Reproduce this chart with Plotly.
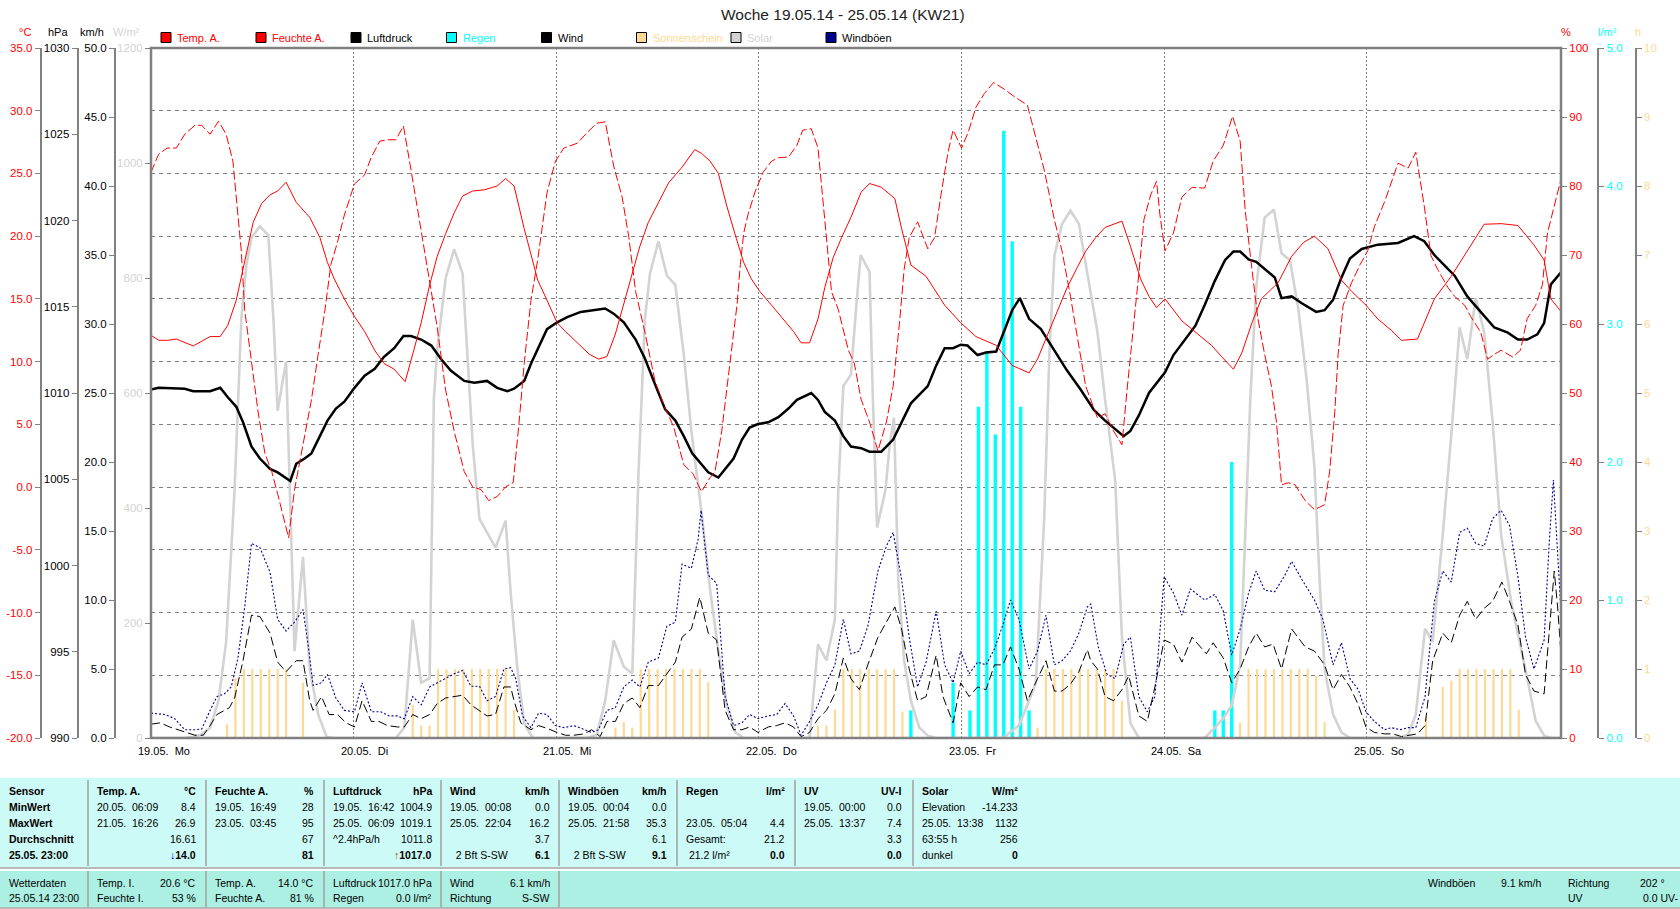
import plotly.graph_objects as go

# ---------------- data (hours since 19.05.14 00:00) ----------------
temp_h = [0, 0.9, 2.0, 3.0, 5.0, 7.0, 8.2, 9.1, 10.1, 11.1, 12.1, 13.1, 14.1, 15.0, 16.0, 17.2, 18.8, 20.0, 20.9, 21.7,
          22.9, 24.1, 25.3, 26.5, 27.6, 28.8, 30.1, 31.0, 32.0, 33.0, 33.9, 34.9, 35.9, 36.9, 38.1, 39.5, 41.0, 42.0,
          43.0, 44.2, 45.8, 46.9, 48.1, 49.1, 50.5, 51.9, 53.0, 54.0, 55.0, 56.0, 57.0, 57.9, 58.9, 60.1, 61.3, 62.9,
          64.4, 65.2, 66.2, 67.2, 68.2, 69.2, 70.2, 71.1, 72.1, 73.5, 74.9, 76.1, 77.0, 78.0, 79.0, 79.8, 80.8, 81.8,
          82.9, 84.1, 85.1, 86.5, 88.1, 88.9, 90.0, 91.8, 94.0, 95.9, 97.7, 100.1, 102.0, 104.0, 105.0, 106.2, 107.4,
          108.5, 109.7, 110.7, 111.9, 113.0, 115.0, 116.0, 117.2, 118.2, 119.1, 120.1, 122.1, 124.3, 125.6, 126.8,
          128.2, 129.2, 130.4, 131.5, 133.5, 135.1, 136.5, 137.8, 139.4, 141.0, 142.2, 143.9, 145.3, 146.9, 148.1,
          150.0, 152.0, 154.0, 155.9, 157.9, 159.9, 161.9, 163.8, 165.0, 165.8, 167.0]
temp_v = [12.1, 11.7, 11.7, 11.8, 11.25, 12.0, 12.0, 12.9, 14.9, 18.1, 21.1, 22.6, 23.3, 23.6, 24.3, 22.7, 21.5, 19.9,
          17.9, 16.6, 15.0, 13.6, 12.4, 10.9, 9.85, 9.4, 8.4, 10.6, 13.1, 16.1, 18.4, 20.2, 21.85, 23.2, 23.6, 23.7,
          24.0, 24.6, 24.0, 20.6, 16.5, 14.9, 13.1, 12.4, 11.5, 10.6, 10.2, 10.4, 12.2, 14.6, 17.0, 19.2, 21.1, 22.7,
          24.25, 25.5, 26.9, 26.6, 26.0, 25.0, 22.4, 20.1, 17.9, 16.6, 15.6, 14.5, 13.4, 12.4, 11.5, 11.5, 13.4, 15.9,
          18.3, 19.9, 21.5, 23.5, 24.2, 23.9, 23.0, 20.6, 17.7, 16.8, 14.5, 13.1, 12.0, 11.3, 9.7, 9.1, 10.2, 12.2,
          14.1, 15.9, 17.5, 18.8, 19.9, 20.7, 21.2, 19.2, 16.6, 15.2, 14.3, 15.0, 13.25, 12.0, 11.3, 10.4, 9.4, 10.7,
          13.1, 15.0, 16.3, 18.4, 19.5, 20.0, 19.0, 16.5, 15.6, 14.5, 13.4, 12.5, 11.7, 11.8, 15.0, 16.8, 18.8, 20.95,
          21.0, 20.85, 19.3, 18.1, 15.0, 14.0]

hum_h = [0, 0.9, 1.9, 3.0, 4.0, 5.2, 6.0, 7.0, 8.0, 8.9, 9.7, 10.3, 10.7, 11.1, 11.9, 12.7, 13.5, 14.3, 15.0, 16.3,
         17.0, 18.0, 19.0, 19.8, 20.6, 21.3, 22.1, 22.9, 24.1, 25.3, 26.1, 27.1, 28.0, 29.0, 29.9, 30.8, 32.0, 33.2,
         33.9, 34.9, 35.9, 37.1, 38.1, 39.1, 40.0, 41.0, 42.0, 42.9, 43.6, 44.2, 45.0, 45.8, 46.9, 47.9, 48.9, 50.5,
         51.7, 52.8, 53.8, 54.8, 55.8, 56.6, 57.4, 58.5, 59.7, 60.9, 61.9, 63.1, 64.2, 65.2, 66.2, 66.8, 67.6, 68.6,
         69.4, 69.8, 70.2, 70.7, 71.5, 72.5, 73.5, 74.3, 75.5, 76.5, 77.2, 78.2, 79.0, 79.8, 80.6, 81.4, 82.6, 83.3,
         84.1, 85.1, 86.1, 87.1, 87.9, 88.7, 89.2, 89.8, 90.8, 92.0, 92.8, 93.6, 94.4, 95.0, 96.0, 96.8, 97.7, 98.7,
         99.8, 101.1, 102.2, 103.8, 104.6, 105.8, 107.0, 107.9, 108.9, 109.7, 110.7, 112.1, 113.0, 114.0, 115.0,
         115.6, 116.4, 117.0, 117.6, 118.4, 119.1, 119.5, 120.1, 121.1, 122.1, 123.3, 124.8, 125.8, 127.0, 128.1,
         129.0, 129.6, 130.4, 131.1, 131.9, 132.7, 133.3, 133.9, 134.7, 135.5, 136.7, 137.8, 139.0, 139.6, 140.2,
         140.6, 141.2, 142.2, 143.2, 144.1, 144.9, 146.1, 147.7, 148.9, 149.8, 150.8, 151.6, 152.4, 153.6, 154.4,
         155.6, 156.3, 157.5, 158.3, 159.1, 159.9, 161.3, 162.2, 163.0, 164.0, 164.8, 165.4, 166.2, 167.0]
hum_v = [82, 84.6, 85.5, 85.5, 87.5, 88.8, 88.8, 87.5, 89.4, 87.5, 83.6, 75.1, 70.5, 62, 54.3, 47.1, 41.2, 38.6, 35.4,
         29, 36, 42.5, 49, 55.6, 62, 68.6, 71.9, 75.8, 80.3, 81.6, 84.2, 86.5, 86.7, 86.7, 88.7, 82.3, 73.2, 64.7, 59.5,
         50.4, 44.5, 38.6, 36.4, 36, 34.4, 35, 36.4, 37, 45.8, 54.3, 63.4, 69.3, 79, 83.6, 85.5, 86.2, 87.8, 89.1, 89.3,
         82.9, 78.4, 72.5, 64.7, 58.8, 51.7, 47.8, 45.1, 39.6, 38.3, 35.7, 37.7, 38.6, 44.5, 54.3, 62.7, 68.6, 73.2,
         75.8, 79, 82, 83.6, 84.1, 84.2, 85.9, 88.1, 88.3, 85.5, 75.1, 64.7, 62.1, 56.2, 54.3, 49.1, 45.8, 41.6, 45.8,
         51, 60.8, 67.9, 72.5, 74.8, 70.9, 72.5, 79, 84.9, 88.1, 85.5, 87.8, 91.4, 93.4, 95, 94, 93, 91.7, 88.1, 82.3,
         75.1, 70.6, 64.0, 58.2, 51, 46.4, 47, 44.5, 42.5, 50.4, 59.5, 67.3, 75.1, 78.7, 80.7, 75.8, 70.6, 73.2, 78.4,
         79.8, 79.7, 83.6, 85.9, 90.1, 86.5, 76.4, 67.9, 60.8, 55.6, 51, 45.8, 36.7, 37, 36.7, 34.4, 33.1, 33.8, 38.6,
         47.1, 55.6, 62.7, 66, 68.6, 70.6, 74.1, 77.7, 83.3, 82.6, 84.9, 77.1, 69.9, 67.9, 65.3, 64, 62.7, 61.1, 58.8,
         54.9, 55.6, 56.2, 55.2, 56.2, 60.8, 62.7, 65.7, 73.2, 77.1, 81]

pres_h = [0, 0.9, 4.0, 5.0, 7.0, 8.2, 9.1, 10.1, 10.9, 11.9, 12.9, 14.1, 15.0, 16.5, 17.2, 18.2, 19.0, 20.0, 20.9,
          21.9, 22.9, 24.1, 25.3, 26.5, 27.6, 28.8, 29.9, 30.8, 32.0, 33.2, 34.3, 35.5, 37.1, 38.3, 39.8, 41.0, 42.2,
          43.0, 44.2, 45.0, 46.1, 46.9, 48.1, 49.3, 50.9, 52.4, 53.8, 54.8, 56.0, 57.4, 58.5, 59.7, 60.9, 62.1, 63.1,
          64.1, 65.2, 66.0, 67.2, 68.0, 69.0, 70.0, 70.9, 71.9, 73.1, 74.3, 75.5, 76.5, 77.2, 78.2, 79.0, 79.8, 81.0,
          82.0, 82.9, 84.1, 85.1, 86.5, 87.9, 88.9, 90.0, 92.0, 93.0, 94.0, 95.0, 95.9, 96.7, 97.9, 98.9, 100.1, 101.1,
          102.0, 102.9, 104.0, 105.4, 107.0, 108.5, 110.1, 111.7, 113.0, 114.0, 115.2, 116.0, 117.0, 118.2, 120.1,
          121.1, 122.5, 123.7, 124.8, 126.0, 127.2, 128.2, 129.0, 130.0, 130.9, 131.9, 133.1, 133.9, 135.1, 136.3,
          138.0, 139.0, 140.0, 141.0, 142.0, 143.4, 145.3, 147.7, 149.6, 150.8, 152.0, 153.2, 154.4, 155.9, 157.5,
          159.1, 160.7, 161.9, 163.0, 164.2, 165.0, 165.8, 167.0]
pres_v = [1010.2, 1010.3, 1010.25, 1010.1, 1010.1, 1010.3, 1009.75, 1009.2, 1008.3, 1006.9, 1006.2, 1005.6, 1005.4,
          1004.9, 1005.9, 1006.2, 1006.5, 1007.5, 1008.4, 1009.1, 1009.5, 1010.3, 1011.0, 1011.4, 1012.1, 1012.6,
          1013.3, 1013.3, 1013.1, 1012.75, 1012.0, 1011.3, 1010.7, 1010.6, 1010.7, 1010.3, 1010.1, 1010.25, 1010.7,
          1011.7, 1012.9, 1013.7, 1014.1, 1014.4, 1014.7, 1014.8, 1014.9, 1014.6, 1014.1, 1013.1, 1012.0, 1010.5,
          1009.05, 1008.4, 1007.5, 1006.5, 1005.9, 1005.4, 1005.1, 1005.6, 1006.2, 1007.3, 1008.0, 1008.2, 1008.3,
          1008.6, 1009.1, 1009.6, 1009.75, 1010.0, 1009.6, 1008.9, 1008.4, 1007.5, 1006.9, 1006.8, 1006.6, 1006.6,
          1007.3, 1008.3, 1009.4, 1010.4, 1011.6, 1012.6, 1012.6, 1012.8, 1012.75, 1012.2, 1012.35, 1012.4, 1013.7,
          1014.8, 1015.5, 1014.3, 1013.7, 1012.5, 1011.3, 1010.2, 1009.0, 1008.4, 1008.0, 1007.5, 1007.8, 1008.7,
          1010.0, 1011.2, 1012.2, 1013.1, 1013.9, 1015.1, 1016.5, 1017.7, 1018.2, 1018.2, 1017.75, 1017.6, 1017.2,
          1016.7, 1015.5, 1015.6, 1015.2, 1014.7, 1014.8, 1015.4, 1016.7, 1017.8, 1018.35, 1018.6, 1018.7, 1019.1,
          1018.8, 1018.0, 1017.4, 1016.8, 1015.6, 1014.7, 1013.8, 1013.5, 1013.1, 1013.1, 1013.4, 1014.05, 1016.3,
          1017.0]

wind_h = [0.0, 1.1, 2.2, 3.2, 4.2, 5.2, 6.2, 7.0, 7.8, 8.7, 9.3, 9.9, 10.9, 11.9, 12.9, 14.1, 15.0, 16.0, 17.2, 18.0,
          18.8, 19.2, 20.2, 21.1, 22.1, 23.1, 24.1, 25.0, 26.1, 27.0, 28.0, 29.2, 30.0, 31.0, 32.0, 33.0, 33.9, 34.9,
          35.9, 36.9, 37.9, 38.9, 39.8, 40.8, 41.8, 42.6, 43.0, 43.8, 45.0, 45.9, 46.9, 48.1, 49.1, 50.1, 51.3, 52.2,
          53.2, 54.0, 55.0, 56.0, 57.0, 57.9, 58.9, 60.1, 60.9, 62.1, 62.9, 64.0, 65.0, 66.0, 67.0, 68.0, 69.0, 70.0,
          70.9, 71.9, 73.1, 74.1, 75.1, 76.1, 77.0, 78.0, 79.0, 80.0, 81.0, 82.0, 82.9, 83.9, 84.9, 86.1, 87.1, 88.1,
          88.9, 89.8, 90.8, 91.8, 93.0, 93.8, 95.0, 95.9, 96.9, 97.9, 98.9, 99.9, 100.9, 101.8, 102.8, 103.8, 105.0,
          106.0, 107.0, 107.9, 108.9, 109.9, 110.9, 111.3, 112.1, 113.0, 114.0, 115.0, 115.8, 117.0, 118.0, 118.9,
          120.0, 121.1, 122.1, 123.3, 125.0, 125.8, 127.0, 128.0, 129.0, 130.0, 130.9, 131.9, 132.9, 133.9, 135.1,
          136.7, 137.8, 139.0, 140.0, 141.0, 142.0, 143.0, 143.9, 144.9, 146.1, 147.1, 148.1, 149.1, 150.0, 150.9,
          151.8, 153.0, 154.0, 155.0, 155.9, 156.9, 157.9, 158.9, 160.0, 160.9, 161.9, 162.8, 163.8, 165.0, 165.6,
          166.2, 166.6, 167.0]
wind_v = [1.0, 1.1, 0.8, 0.6, 0.4, 0.2, 0.2, 0.9, 1.7, 2.0, 2.2, 2.9, 5.6, 8.9, 8.8, 7.6, 5.5, 4.8, 5.6, 5.6, 2.7, 2.0,
          3.0, 1.7, 1.7, 1.1, 0.8, 2.7, 1.2, 1.2, 0.9, 0.8, 0.8, 1.7, 1.4, 1.7, 2.5, 2.9, 3.0, 3.1, 2.4, 2.0, 1.6, 1.7,
          3.7, 3.7, 2.7, 1.1, 0.6, 0.9, 0.7, 0.4, 0.2, 0.2, 0.3, 0.6, 0.1, 1.2, 1.2, 2.5, 2.9, 2.2, 3.8, 3.8, 4.5, 5.5,
          7.3, 7.9, 10.2, 7.6, 7.1, 2.0, 0.6, 0.6, 0.8, 0.4, 0.8, 0.9, 1.1, 0.8, 0.1, 0.4, 1.4, 2.0, 3.2, 5.8, 4.3,
          3.5, 5.3, 7.3, 8.4, 9.5, 7.9, 5.0, 2.7, 3.0, 6.0, 3.0, 1.1, 4.0, 3.0, 3.7, 3.5, 5.3, 5.3, 6.6, 5.0, 2.7, 4.3,
          5.6, 3.4, 3.4, 3.9, 4.8, 6.4, 5.6, 5.0, 3.0, 2.7, 3.5, 4.5, 1.6, 1.2, 3.7, 7.1, 6.8, 5.5, 7.3, 6.1, 6.9, 5.8,
          4.0, 5.0, 6.6, 7.6, 6.6, 6.8, 5.0, 7.9, 6.6, 6.3, 5.3, 3.5, 4.6, 3.7, 2.4, 0.8, 0.4, 0.3, 0.3, 0.1, 0.2, 0.3,
          0.9, 5.6, 7.6, 6.9, 8.9, 9.9, 8.6, 9.4, 9.9, 11.3, 9.9, 8.2, 4.6, 3.4, 3.2, 7.4, 12.1, 9.5, 6.1]

gust_h = [0.0, 1.7, 2.8, 4.0, 5.2, 6.0, 7.0, 7.8, 8.7, 9.5, 10.3, 11.1, 11.9, 12.9, 14.1, 15.0, 16.0, 17.0, 18.0, 18.6,
          19.2, 20.2, 20.9, 21.9, 22.9, 24.1, 25.0, 26.1, 27.2, 28.2, 29.2, 30.0, 31.0, 32.0, 33.0, 33.9, 34.9, 35.9,
          36.9, 37.9, 38.9, 39.8, 40.8, 41.8, 42.6, 43.2, 44.0, 45.0, 45.9, 46.9, 47.9, 48.9, 50.1, 51.3, 52.2, 53.0,
          54.0, 55.0, 56.0, 57.0, 57.9, 58.9, 60.1, 61.1, 62.1, 62.9, 64.0, 64.8, 65.15, 66.0, 67.0, 68.0, 69.0, 70.0,
          70.9, 71.9, 73.1, 74.1, 75.1, 76.1, 77.0, 78.0, 79.0, 80.0, 81.0, 82.0, 82.9, 83.9, 84.9, 86.1, 87.1, 87.9,
          88.9, 89.8, 90.8, 91.8, 93.0, 94.0, 95.0, 95.9, 96.9, 97.9, 98.9, 99.9, 100.9, 101.8, 102.8, 104.0, 105.0,
          106.0, 107.0, 107.9, 108.9, 109.9, 110.9, 111.3, 112.2, 113.2, 114.2, 115.2, 116.0, 117.0, 118.0, 118.9,
          120.0, 121.1, 122.1, 123.1, 124.8, 126.0, 127.0, 128.0, 129.0, 130.0, 130.9, 131.9, 133.1, 134.3, 135.1,
          136.3, 137.8, 138.8, 140.0, 141.0, 142.0, 143.0, 143.9, 144.9, 146.1, 146.9, 147.9, 148.9, 149.8, 150.9,
          152.0, 153.0, 154.0, 155.0, 155.9, 156.9, 157.9, 158.9, 159.9, 160.9, 161.9, 162.8, 163.8, 165.0, 165.6,
          166.1, 166.6, 167.0]
gust_v = [1.8, 1.7, 1.4, 0.6, 0.6, 0.65, 2.0, 3.0, 3.2, 3.7, 5.8, 9.5, 14.1, 13.8, 12.0, 8.6, 7.75, 8.4, 9.3, 6.8, 3.8,
          4.0, 4.6, 2.9, 2.0, 1.9, 4.0, 1.9, 1.9, 1.6, 1.6, 1.4, 3.0, 2.4, 3.7, 4.0, 4.3, 4.65, 4.9, 3.75, 3.75, 2.7,
          3.0, 5.0, 5.1, 4.3, 1.6, 0.75, 1.8, 1.7, 0.9, 0.75, 0.9, 0.6, 0.4, 0.6, 2.0, 2.2, 3.7, 4.2, 3.7, 5.5, 5.8,
          8.1, 8.4, 12.6, 12.3, 14.4, 16.5, 11.8, 11.2, 3.0, 0.9, 1.1, 1.7, 1.4, 1.6, 1.7, 2.5, 1.6, 0.2, 1.2, 2.4, 4.0,
          5.3, 8.6, 6.1, 6.3, 8.1, 12.1, 13.9, 14.9, 11.5, 7.3, 3.7, 5.5, 9.2, 5.3, 4.0, 6.3, 4.65, 5.5, 5.3, 6.45, 8.2,
          10.0, 8.6, 5.0, 6.3, 8.9, 5.3, 5.6, 6.3, 7.6, 9.5, 9.7, 6.6, 4.65, 4.3, 6.8, 7.3, 3.0, 1.9, 3.0, 11.7, 10.5,
          8.9, 10.8, 10.0, 10.4, 9.2, 6.0, 7.9, 10.5, 12.1, 10.7, 10.6, 11.8, 12.8, 11.5, 10.0, 8.6, 5.3, 6.9, 4.3, 3.5,
          1.9, 1.2, 0.6, 0.75, 0.6, 0.75, 0.75, 3.0, 9.9, 12.1, 11.3, 14.9, 15.2, 14.1, 13.9, 15.9, 16.5, 15.4, 11.7,
          7.3, 5.0, 7.1, 14.1, 18.7, 13.5, 9.1]

solar_h = [0, 4.0, 5.0, 6.0, 7.0, 8.0, 8.9, 9.9, 10.7, 11.3, 11.9, 12.9, 13.9, 14.5, 15.0, 16.0, 16.6, 17.0, 18.0,
           18.8, 19.8, 20.8, 21.7, 29.0, 30.0, 31.0, 32.0, 33.0, 33.5, 33.9, 34.9, 35.9, 36.9, 37.5, 38.1, 38.9, 40.8,
           42.0, 42.6, 43.4, 44.2, 45.2, 51.7, 52.8, 53.8, 54.8, 56.0, 57.0, 57.75, 58.5, 59.1, 60.1, 61.1, 62.1, 63.1,
           64.0, 65.2, 66.2, 67.2, 68.2, 69.2, 70.2, 78.0, 79.0, 80.0, 81.0, 81.4, 82.0, 82.9, 83.5, 84.05, 85.1, 85.5,
           86.0, 87.0, 87.5, 88.0, 88.5, 89.2, 90.0, 91.0, 92.0, 93.0, 100.9, 101.8, 102.8, 103.8, 104.8, 105.8, 106.4,
           107.0, 107.9, 108.9, 109.9, 110.9, 112.1, 113.0, 114.2, 115.0, 116.0, 117.0, 124.8, 126.0, 127.0, 128.0,
           129.0, 129.6, 130.2, 130.9, 131.9, 133.0, 133.9, 134.9, 135.9, 136.9, 137.8, 138.4, 139.0, 140.0, 141.0,
           142.0, 147.9, 148.9, 149.8, 150.9, 151.8, 153.0, 154.0, 155.0, 155.9, 156.9, 157.9, 158.9, 159.9, 161.1,
           161.9, 163.0, 164.0, 165.0, 165.8, 167.0]
solar_v = [0, 0, 2, 6, 18, 65, 167, 432, 729, 823, 870, 890, 874, 729, 569, 655, 354, 151, 315, 120, 41, 2, 0, 0, 18,
           206, 96, 104, 589, 675, 800, 850, 808, 651, 511, 381, 331, 378, 252, 120, 26, 0, 0, 6, 65, 170, 124, 112,
           464, 729, 808, 864, 804, 788, 667, 534, 393, 260, 151, 57, 10, 0, 0, 163, 135, 206, 432, 612, 632, 745, 840,
           811, 589, 366, 432, 511, 557, 276, 135, 65, 18, 4, 0, 0, 10, 22, 57, 96, 385, 667, 839, 894, 917, 894, 808,
           706, 589, 448, 174, 26, 0, 0, 18, 34, 57, 127, 354, 589, 784, 905, 919, 843, 831, 745, 620, 471, 276, 120,
           41, 10, 0, 0, 6, 41, 190, 167, 354, 526, 714, 659, 765, 706, 550, 354, 237, 182, 104, 30, 4, 0, 0]

sun_h = [9, 10, 11, 12, 13, 14, 15, 16, 18,
         31, 32, 33, 34, 35, 36, 37, 38, 39, 40, 41, 42, 43,
         55, 56, 57, 58, 59, 60, 61, 62, 63, 64, 65, 66,
         79, 80, 81, 82, 83, 84, 85, 86, 87, 88, 89,
         105, 106, 107, 108, 109, 110, 111, 112, 113, 114, 115,
         129, 130, 131, 132, 133, 134, 135, 136, 137, 138, 139,
         151, 153, 154, 155, 156, 157, 158, 159, 160, 161, 162]
sun_v = [0.2, 0.87, 1, 1, 1, 1, 1, 1, 0.8,
         0.48, 0.18, 0.18, 1, 1, 1, 1, 1, 1, 1, 1, 1, 0.41,
         0.15, 0.23, 0.15, 1, 1, 1, 1, 1, 1, 1, 1, 0.81,
         0.18, 0.18, 0.41, 1, 1, 1, 1, 1, 1, 1, 0.38,
         0.15, 1, 1, 1, 1, 1, 1, 1, 1, 1, 0.54,
         0.22, 1, 1, 1, 1, 1, 1, 1, 1, 0.9, 0.23,
         0.31, 0.74, 0.83, 1, 1, 1, 1, 1, 1, 1, 0.41]

rain_h = [90, 95, 97, 98, 99, 100, 101, 102, 103, 104, 126, 127, 128]
rain_v = [0.2, 0.4, 0.2, 2.4, 2.8, 2.2, 4.4, 3.6, 2.4, 0.2, 0.2, 0.2, 2.0]

day_hours = [0, 24, 48, 72, 96, 120, 144]
day_labels = ["19.05.\u00a0 Mo", "20.05.\u00a0 Di", "21.05.\u00a0 Mi", "22.05.\u00a0 Do",
              "23.05.\u00a0 Fr", "24.05.\u00a0 Sa", "25.05.\u00a0 So"]

# ---------------- styling ----------------
W, H = 1680, 909
PL, PR, PT, PB = 151, 1561, 48, 738
FONT = "Liberation Sans, Arial, sans-serif"
RED = "#FF0000"
CYAN = "#00FFFF"
PEACH = "#FFD894"
LGREY = "#D3D3D3"
NAVY = "#000090"
GRID = "#808080"
TS = 10.5  # table font size


def px(x):
    return x / W


def py(y):
    return 1 - y / H


xd = [px(PL), px(PR)]
yd = [py(PB), py(PT)]

fig = go.Figure()
fig.add_trace(go.Bar(x=sun_h, y=sun_v, width=0.26, marker=dict(color=PEACH, line=dict(width=0)),
                     xaxis="x", yaxis="y", name="Sonnenschein"))
fig.add_trace(go.Bar(x=rain_h, y=rain_v, width=0.4, marker=dict(color=CYAN, line=dict(width=0)),
                     xaxis="x", yaxis="y2", name="Regen"))
fig.add_trace(go.Scatter(x=solar_h, y=solar_v, mode="lines", line=dict(color=LGREY, width=2.6),
                         xaxis="x", yaxis="y3", name="Solar"))
fig.add_trace(go.Scatter(x=wind_h, y=wind_v, mode="lines", line=dict(color="black", width=1, dash="9px,4px"),
                         xaxis="x", yaxis="y4", name="Wind"))
fig.add_trace(go.Scatter(x=gust_h, y=gust_v, mode="lines", line=dict(color=NAVY, width=1.1, dash="2px,2px"),
                         xaxis="x", yaxis="y4", name="Windböen"))
fig.add_trace(go.Scatter(x=pres_h, y=pres_v, mode="lines", line=dict(color="black", width=2.5),
                         xaxis="x", yaxis="y5", name="Luftdruck"))
fig.add_trace(go.Scatter(x=hum_h, y=hum_v, mode="lines", line=dict(color=RED, width=1, dash="9px,3px"),
                         xaxis="x", yaxis="y6", name="Feuchte A."))
fig.add_trace(go.Scatter(x=temp_h, y=temp_v, mode="lines", line=dict(color=RED, width=1),
                         xaxis="x", yaxis="y7", name="Temp. A."))


def yax(rng, vals, fmt, side, pos, color, overlay=True, grid=False):
    d = dict(range=rng, domain=yd, anchor="free", position=pos, side=side,
             tickmode="array", tickvals=vals, ticktext=[fmt.format(v) for v in vals],
             showline=True, linecolor=GRID, linewidth=2, ticks="outside", ticklen=5,
             tickcolor=GRID, tickwidth=1, zeroline=False, showgrid=grid, automargin=False,
             fixedrange=True, tickfont=dict(family=FONT, size=11.5, color=color))
    if grid:
        d.update(gridcolor=GRID, gridwidth=1, griddash="4px,4px")
    if overlay:
        d["overlaying"] = "y"
    return d


layout = dict(
    width=W, height=H, margin=dict(l=0, r=0, t=0, b=0),
    paper_bgcolor="white", plot_bgcolor="white", showlegend=False, barmode="overlay",
    font=dict(family=FONT, size=11, color="black"),
    xaxis=dict(range=[0, 167], domain=xd, anchor="y", tickmode="array", tickvals=day_hours,
               showticklabels=False, ticks="", showgrid=True, gridcolor=GRID, gridwidth=1,
               griddash="2px,2px", zeroline=False, showline=False, fixedrange=True),
    yaxis=yax([0, 10], list(range(0, 11)), "{:d}", "right", px(1635.7), PEACH, overlay=False),
    yaxis2=yax([0, 5], [0, 1, 2, 3, 4, 5], "{:.1f}", "right", px(1598.3), CYAN),
    yaxis3=yax([0, 1200], list(range(0, 1201, 200)), "{:d}", "left", px(PL), LGREY),
    yaxis4=yax([0, 50], list(range(0, 51, 5)), "{:.1f}", "left", px(115), "black"),
    yaxis5=yax([990, 1030], list(range(990, 1031, 5)), "{:d}", "left", px(77.7), "black"),
    yaxis6=yax([0, 100], list(range(0, 101, 10)), "{:d}", "right", px(PR), RED),
    yaxis7=yax([-20, 35], list(range(-20, 36, 5)), "{:.1f}", "left", px(40.7), RED, grid=True),
)
fig.update_layout(**layout)

shapes = []
ann = []


def txt(x, y, s, anchor="left", color="black", size=11, bold=False):
    ann.append(dict(x=px(x), y=py(y), xref="paper", yref="paper", text=(f"<b>{s}</b>" if bold else s),
                    showarrow=False, xanchor=anchor, yanchor="middle",
                    font=dict(family=FONT, size=size, color=color)))


def rect(x0, y0, x1, y1, fill=None, line=None, lw=1):
    shapes.append(dict(type="rect", xref="paper", yref="paper", x0=px(x0), x1=px(x1), y0=py(y1), y1=py(y0),
                       fillcolor=fill if fill else "rgba(0,0,0,0)",
                       line=dict(color=line if line else "rgba(0,0,0,0)", width=lw if line else 0),
                       layer="above"))


def hline(x0, x1, y, color, w=1):
    shapes.append(dict(type="line", xref="paper", yref="paper", x0=px(x0), x1=px(x1), y0=py(y), y1=py(y),
                       line=dict(color=color, width=w)))


def vline(x, y0, y1, color, w=1):
    shapes.append(dict(type="line", xref="paper", yref="paper", x0=px(x), x1=px(x), y0=py(y0), y1=py(y1),
                       line=dict(color=color, width=w)))


# plot border
rect(PL, PT, PR, PB, line=GRID, lw=2.5)

# title
txt(843, 15, "Woche 19.05.14 - 25.05.14 (KW21)", anchor="center", color="#222222", size=15.5)

# axis titles
txt(24.5, 32, "°C", anchor="center", color=RED)
txt(57.5, 32, "hPa", anchor="center")
txt(92, 32, "km/h", anchor="center")
txt(127, 32, "W/m²", anchor="center", color=LGREY)
txt(1566, 32, "%", anchor="center", color=RED)
txt(1607, 32, "l/m²", anchor="center", color=CYAN)
txt(1638, 32, "h", anchor="center", color=PEACH)

# legend
legend_items = [("Temp. A.", RED, RED), ("Feuchte A.", RED, RED), ("Luftdruck", "black", "black"),
                ("Regen", CYAN, CYAN), ("Wind", "black", "black"), ("Sonnenschein", PEACH, PEACH),
                ("Solar", LGREY, LGREY), ("Windböen", NAVY, "black")]
leg_x = [161, 256, 351, 446.5, 541.5, 636.5, 731, 826]
for (name, fillc, tc), lx in zip(legend_items, leg_x):
    rect(lx, 32.5, lx + 10, 42.5, fill=fillc, line="black", lw=1)
    txt(lx + 14, 37.5, name, color=tc)

# x tick labels (dates)
for h, lab in zip(day_hours, day_labels):
    ann.append(dict(x=h, y=py(751), xref="x", yref="paper", text=lab, showarrow=False, xanchor="left",
                    yanchor="middle", xshift=-15, font=dict(family=FONT, size=11, color="black")))

# ---------------- table ----------------
TOP_C = "#CCFAF6"
BOT_C = "#ABF0E3"
SEP = "#A0A0A0"
rect(0, 778, W, 867, fill=TOP_C)
rect(0, 871, W, 907, fill=BOT_C)
hline(0, W, 868, SEP, 1.5)
hline(0, W, 870.5, "white", 1)
hline(0, W, 908, SEP, 1.5)
col_left = [0, 88, 206, 324, 441, 559, 677, 795, 913]
for cx in col_left[1:]:
    vline(cx, 780, 866, SEP, 1.5)
for cx in col_left[1:6]:
    vline(cx, 871, 907, SEP, 1.5)

rows_y = [791, 807, 823, 839, 855]
for s, y in zip(["Sensor", "MinWert", "MaxWert", "Durchschnitt", "25.05. 23:00"], rows_y):
    txt(7, y, s, bold=True, size=TS)

NB = "\u00a0"
cols = [
    ("Temp. A.", "°C", 198, [("20.05." + NB + " 06:09", "8.4"), ("21.05." + NB + " 16:26", "26.9"), ("", "16.61"),
                             ("", "<b><span style='color:#0000FF'>↓</span>14.0</b>")]),
    ("Feuchte A.", "%", 316, [("19.05." + NB + " 16:49", "28"), ("23.05." + NB + " 03:45", "95"), ("", "67"),
                              ("", "<b>81</b>")]),
    ("Luftdruck", "hPa", 434, [("19.05." + NB + " 16:42", "1004.9"), ("25.05." + NB + " 06:09", "1019.1"),
                               ("^2.4hPa/h", "1011.8"), ("", "<b><span style='color:#A04000'>↑</span>1017.0</b>")]),
    ("Wind", "km/h", 552, [("19.05." + NB + " 00:08", "0.0"), ("25.05." + NB + " 22:04", "16.2"), ("", "3.7"),
                           (NB + NB + "2 Bft S-SW", "<b>6.1</b>")]),
    ("Windböen", "km/h", 669, [("19.05." + NB + " 00:04", "0.0"), ("25.05." + NB + " 21:58", "35.3"), ("", "6.1"),
                               (NB + NB + "2 Bft S-SW", "<b>9.1</b>")]),
    ("Regen", "l/m²", 787, [("", ""), ("23.05." + NB + " 05:04", "4.4"), ("Gesamt:", "21.2"),
                            (NB + "21.2 l/m²", "<b>0.0</b>")]),
    ("UV", "UV-I", 904, [("19.05." + NB + " 00:00", "0.0"), ("25.05." + NB + " 13:37", "7.4"), ("", "3.3"),
                         ("", "<b>0.0</b>")]),
    ("Solar", "W/m²", 1020, [("Elevation", "-14.233"), ("25.05." + NB + " 13:38", "1132"), ("63:55 h", "256"),
                             ("dunkel", "<b>0</b>")]),
]
for (head, unit, rx, rows), cl in zip(cols, col_left[1:]):
    txt(cl + 7, rows_y[0], head, bold=True, size=TS)
    txt(rx, rows_y[0], unit, anchor="right", bold=True, size=TS)
    for (lt, rt), y in zip(rows, rows_y[1:]):
        if lt:
            txt(cl + 7, y, lt, size=TS)
        if rt:
            txt(rx, y, rt, anchor="right", size=TS)

# bottom panel
b_y = [882.5, 898]
txt(7, b_y[0], "Wetterdaten", size=TS)
txt(7, b_y[1], "25.05.14 23:00", size=TS)
bottom_cols = [
    (88, 198, [("Temp. I.", "20.6 °C"), ("Feuchte I.", "53 %")]),
    (206, 316, [("Temp. A.", "14.0 °C"), ("Feuchte A.", "81 %")]),
    (324, 434, [("Luftdruck", "1017.0 hPa"), ("Regen", "0.0 l/m²")]),
    (441, 552, [("Wind", "6.1 km/h"), ("Richtung", "S-SW")]),
]
for cl, rx, rws in bottom_cols:
    for (lt, rt), y in zip(rws, b_y):
        txt(cl + 7, y, lt, size=TS)
        txt(rx, y, rt, anchor="right", size=TS)
txt(1426, b_y[0], "Windböen", size=TS)
txt(1543, b_y[0], "9.1 km/h", anchor="right", size=TS)
txt(1566, b_y[0], "Richtung", size=TS)
txt(1667, b_y[0], "202 °", anchor="right", size=TS)
txt(1566, b_y[1], "UV", size=TS)
txt(1681, b_y[1], "0.0 UV-", anchor="right", size=TS)

fig.update_layout(shapes=shapes, annotations=ann)
fig.write_html("out.html", config={"displayModeBar": False})
